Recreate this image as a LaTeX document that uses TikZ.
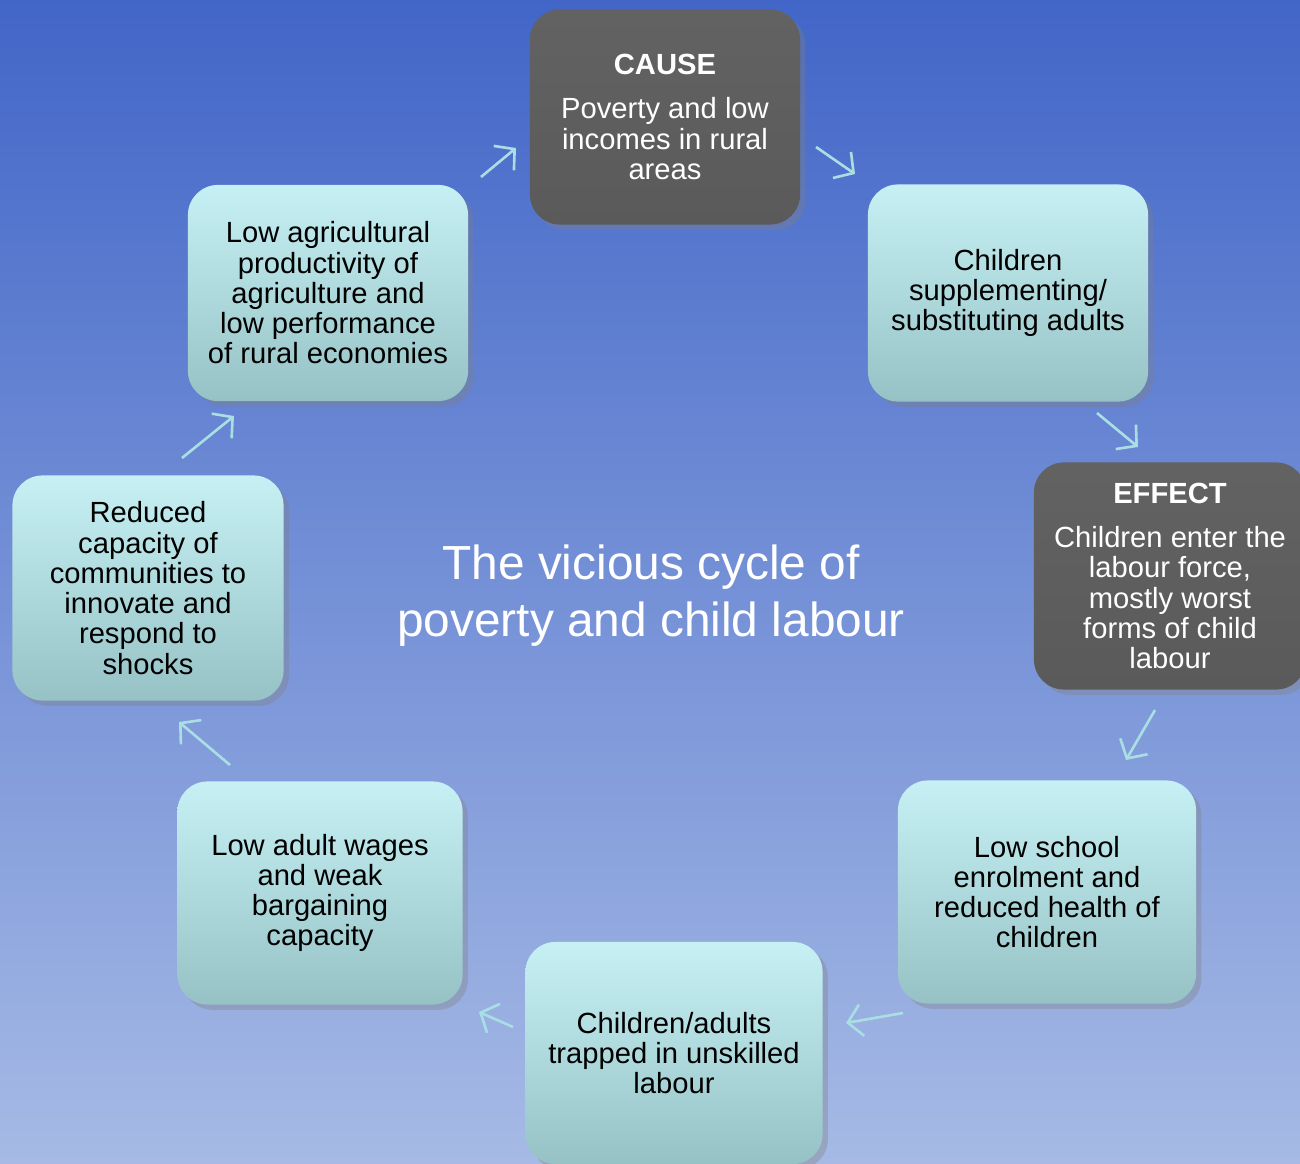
\documentclass[tikz,border=0pt]{standalone}
\usepackage{fontspec}
\setmainfont{Liberation Sans}
\usepackage{tikz}
\usetikzlibrary{arrows.meta,shadows}

\definecolor{bgtop}{HTML}{4266C8}
\definecolor{bgbot}{HTML}{A6BAE5}
\definecolor{boxtop}{HTML}{C6F0F4}
\definecolor{boxbot}{HTML}{96C2C6}
\definecolor{darkbox}{HTML}{5A5A5A}
\definecolor{arrowcol}{HTML}{A9DEE2}

\tikzset{
  stage/.style={rectangle, rounded corners=0.3cm, align=center,
    top color=boxtop, bottom color=boxbot, text=black,
    font=\fontsize{8.3pt}{8.6pt}\selectfont,
    drop shadow={opacity=0.35, shadow xshift=1.5pt, shadow yshift=-1.5pt}},
  keystage/.style={stage, top color=darkbox!95!white, bottom color=darkbox, text=white},
  cyc/.style={draw=arrowcol, line width=0.75pt, -{Straight Barb[length=4pt,width=9pt]}}
}

\begin{document}
\begin{tikzpicture}[x=0.01cm,y=-0.01cm]
  \useasboundingbox (0,0) rectangle (1300,1164);
  \clip (0,0) rectangle (1300,1164);
  \shade[top color=bgtop, bottom color=bgbot] (0,0) rectangle (1300,1164);

  % the eight stages
  \node[keystage, minimum width=2.7cm, minimum height=2.15cm] (cause) at (665,117)
    {\textbf{CAUSE}\\[4pt]Poverty and low\\incomes in rural\\areas};
  \node[stage, minimum width=2.8cm, minimum height=2.17cm] (supp) at (1008,293)
    {Children\\supplementing/\\substituting adults};
  \node[keystage, minimum width=2.72cm, minimum height=2.27cm] (effect) at (1170,576)
    {\textbf{EFFECT}\\[4pt]Children enter the\\labour force,\\mostly worst\\forms of child\\labour};
  \node[stage, minimum width=2.98cm, minimum height=2.23cm] (school) at (1047,892)
    {Low school\\enrolment and\\reduced health of\\children};
  \node[stage, minimum width=2.97cm, minimum height=2.22cm] (trapped) at (674,1053)
    {Children/adults\\trapped in unskilled\\labour};
  \node[stage, minimum width=2.85cm, minimum height=2.23cm] (wages) at (320,893)
    {Low adult wages\\and weak\\bargaining\\capacity};
  \node[stage, minimum width=2.71cm, minimum height=2.25cm] (reduced) at (148,588)
    {Reduced\\capacity of\\communities to\\innovate and\\respond to\\shocks};
  \node[stage, minimum width=2.8cm, minimum height=2.16cm] (agri) at (328,293)
    {Low agricultural\\productivity of\\agriculture and\\low performance\\of rural economies};

  \node[text=white, align=center, font=\fontsize{13.6pt}{16.2pt}\selectfont] (title) at (651,596)
    {The vicious cycle of\\poverty and child labour};

  % arrow ends
  \coordinate (a1) at (481,177);  \coordinate (b1) at (516,148);
  \coordinate (a2) at (816,147);  \coordinate (b2) at (855,174);
  \coordinate (a3) at (1097,413); \coordinate (b3) at (1138,447);
  \coordinate (a4) at (1155,710); \coordinate (b4) at (1126,760);
  \coordinate (a5) at (903,1013); \coordinate (b5) at (846,1023);
  \coordinate (a6) at (513,1027); \coordinate (b6) at (479,1012);
  \coordinate (a7) at (230,765);  \coordinate (b7) at (179,722);
  \coordinate (a8) at (182,458);  \coordinate (b8) at (234,416);
  \foreach \i in {1,...,8}
    \draw[cyc] (a\i) -- (b\i);
\end{tikzpicture}
\end{document}
